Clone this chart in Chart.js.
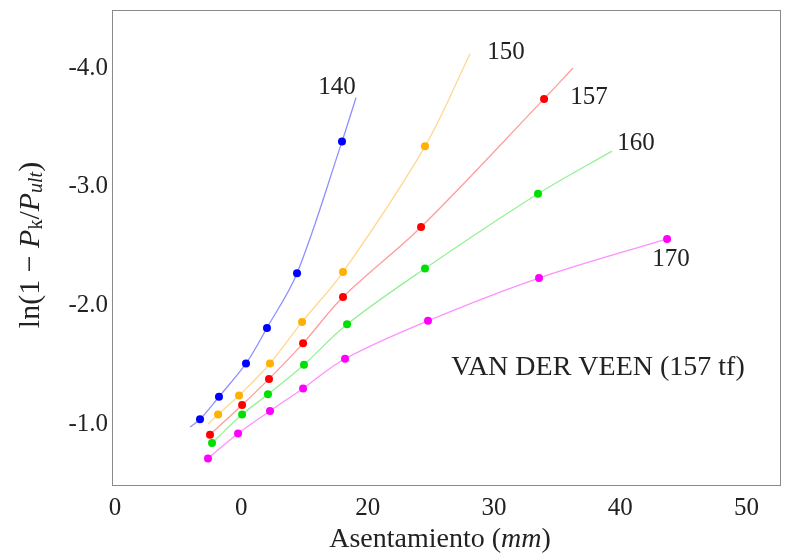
<!DOCTYPE html>
<html>
<head>
<meta charset="utf-8">
<script src="https://cdn.jsdelivr.net/npm/chart.js@4/dist/chart.umd.min.js"></script>
<style>
  html, body { margin: 0; padding: 0; background: #fff; }
  #wrap { width: 792px; height: 555px; }
</style>
</head>
<body>
<div id="wrap"><canvas id="chart" width="792" height="555"></canvas></div>
<script>
// load levels (tf)
var loads = ["140", "150", "157", "160", "170"];

// settlement (mm) and ln(1 - Pk/Pult) for each assumed Pult
var x140 = [6.73, 8.23, 10.37, 12.03, 14.41, 17.97];
var y140 = [-1.04, -1.23, -1.51, -1.81, -2.27, -3.38];
var x150 = [8.16, 9.82, 12.27, 14.81, 18.05, 24.54];
var y150 = [-1.08, -1.24, -1.51, -1.86, -2.28, -3.34];
var x157 = [7.52, 10.06, 12.19, 14.89, 18.05, 24.23, 33.97];
var y157 = [-0.91, -1.16, -1.38, -1.68, -2.07, -2.66, -3.74];
var x160 = [7.68, 10.06, 12.11, 14.96, 18.37, 24.54, 33.49];
var y160 = [-0.84, -1.08, -1.25, -1.50, -1.84, -2.31, -2.94];
var x170 = [7.36, 9.74, 12.27, 14.89, 18.21, 24.78, 33.57, 43.71];
var y170 = [-0.71, -0.92, -1.11, -1.30, -1.55, -1.87, -2.23, -2.56];

// where the fitted curves begin / end beyond the measured points
var curveStart = [[5.94, -0.975], [7.36, -1.0], null, null, null];
var curveEnd = [[19.08, -3.75], [28.11, -4.12], [36.26, -4.0], [39.35, -3.30], null];

var xTicks = [0, 10, 20, 30, 40, 50];
var xTickLabels = ["0", "0", "20", "30", "40", "50"];
var yTicks = [-4, -3, -2, -1];
var yTickLabels = ["-4.0", "-3.0", "-2.0", "-1.0"];

var pointColors = ["#0000ff", "#ffb000", "#ff0000", "#00e000", "#ff00ff"];
var lineColors = ["#9090ff", "#ffd890", "#ff9c9c", "#96f096", "#ff90ff"];

// curve name labels, in data coordinates
var nameLabels = [
    { text: "140", x: 17.58, y: -3.84 },
    { text: "150", x: 30.96, y: -4.135 },
    { text: "157", x: 37.53, y: -3.756 },
    { text: "160", x: 41.25, y: -3.368 },
    { text: "170", x: 44.02, y: -2.39 }
];
var noteText = "VAN DER VEEN (157 tf)";
var notePos = { x: 38.24, y: -1.472 };

var SERIF = "'Liberation Serif', 'DejaVu Serif', serif";
var TEXT = "#222";

function toPoints(xs, ys) {
    var out = [];
    for (var i = 0; i < xs.length; i++) {
        out.push({ x: xs[i], y: ys[i] });
    }
    return out;
}

var allX = [x140, x150, x157, x160, x170];
var allY = [y140, y150, y157, y160, y170];

var datasets = [];
loads.forEach(function (load, k) {
    var pts = toPoints(allX[k], allY[k]);
    var curve = pts.slice();
    if (curveStart[k]) curve.unshift({ x: curveStart[k][0], y: curveStart[k][1] });
    if (curveEnd[k]) curve.push({ x: curveEnd[k][0], y: curveEnd[k][1] });

    datasets.push({
        label: load + " curve",
        data: curve,
        showLine: true,
        borderColor: lineColors[k],
        borderWidth: 1.3,
        pointRadius: 0,
        tension: 0.35,
        order: 2
    });
    datasets.push({
        label: load,
        data: pts,
        showLine: false,
        backgroundColor: pointColors[k],
        borderColor: pointColors[k],
        borderWidth: 0,
        pointRadius: 4,
        order: 1
    });
});

function drawRuns(ctx, runs, x, y) {
    // runs: [{t, font, dy}] laid out left to right, centred on x
    var total = 0;
    runs.forEach(function (r) {
        ctx.font = r.font;
        r.w = ctx.measureText(r.t).width;
        total += r.w;
    });
    var cx = x - total / 2;
    runs.forEach(function (r) {
        ctx.font = r.font;
        ctx.fillText(r.t, cx, y + (r.dy || 0));
        cx += r.w;
    });
}

var decorPlugin = {
    id: "decor",
    afterDatasetsDraw: function (chart) {
        var ctx = chart.ctx;
        var a = chart.chartArea;
        var xs = chart.scales.x, ys = chart.scales.y;

        ctx.save();
        // frame
        ctx.strokeStyle = "#8a8a8a";
        ctx.lineWidth = 1;
        ctx.strokeRect(Math.round(a.left) + 0.5, Math.round(a.top) + 0.5,
            Math.round(a.right - a.left), Math.round(a.bottom - a.top));

        ctx.fillStyle = TEXT;
        ctx.textBaseline = "middle";
        ctx.textAlign = "center";
        ctx.font = "25px " + SERIF;
        nameLabels.forEach(function (l) {
            ctx.fillText(l.text, xs.getPixelForValue(l.x), ys.getPixelForValue(l.y));
        });
        ctx.font = "28px " + SERIF;
        ctx.fillText(noteText, xs.getPixelForValue(notePos.x), ys.getPixelForValue(notePos.y));

        // x axis title
        ctx.textAlign = "left";
        drawRuns(ctx, [
            { t: "Asentamiento (", font: "28px " + SERIF },
            { t: "mm", font: "italic 28px " + SERIF },
            { t: ")", font: "28px " + SERIF }
        ], 440, 540);

        // y axis title, rotated
        ctx.translate(31, 245);
        ctx.rotate(-Math.PI / 2);
        drawRuns(ctx, [
            { t: "ln(1 \u2212 ", font: "30px " + SERIF },
            { t: "P", font: "italic 30px " + SERIF },
            { t: "k", font: "20px " + SERIF, dy: 6 },
            { t: "/", font: "30px " + SERIF },
            { t: "P", font: "italic 30px " + SERIF },
            { t: "ult", font: "italic 20px " + SERIF, dy: 6 },
            { t: ")", font: "30px " + SERIF }
        ], 0, 0);
        ctx.restore();
    }
};

new Chart(document.getElementById("chart"), {
    type: "scatter",
    data: { datasets: datasets },
    options: {
        responsive: false,
        animation: false,
        layout: { padding: { left: 0, right: 12, top: 10, bottom: 0 } },
        plugins: {
            legend: { display: false },
            tooltip: { enabled: false }
        },
        scales: {
            x: {
                type: "linear",
                min: -0.24,
                max: 52.65,
                grid: { display: false, drawTicks: false },
                border: { display: false },
                afterBuildTicks: function (scale) {
                    scale.ticks = xTicks.map(function (v) { return { value: v }; });
                },
                afterFit: function (scale) {
                    scale.height = 70;
                    scale.paddingLeft = 0;
                    scale.paddingRight = 0;
                },
                ticks: {
                    padding: 8,
                    color: TEXT,
                    font: { family: SERIF, size: 25 },
                    callback: function (v) {
                        var i = xTicks.indexOf(v);
                        return i >= 0 ? xTickLabels[i] : "";
                    }
                }
            },
            y: {
                type: "linear",
                reverse: true,
                min: -4.489,
                max: -0.486,
                grid: { display: false, drawTicks: false },
                border: { display: false },
                afterBuildTicks: function (scale) {
                    scale.ticks = yTicks.map(function (v) { return { value: v }; });
                },
                afterFit: function (scale) {
                    scale.width = 112;
                    scale.paddingTop = 0;
                    scale.paddingBottom = 0;
                },
                ticks: {
                    padding: 4,
                    color: TEXT,
                    font: { family: SERIF, size: 25 },
                    callback: function (v) {
                        var i = yTicks.indexOf(v);
                        return i >= 0 ? yTickLabels[i] : "";
                    }
                }
            }
        }
    },
    plugins: [decorPlugin]
});
</script>
</body>
</html>
